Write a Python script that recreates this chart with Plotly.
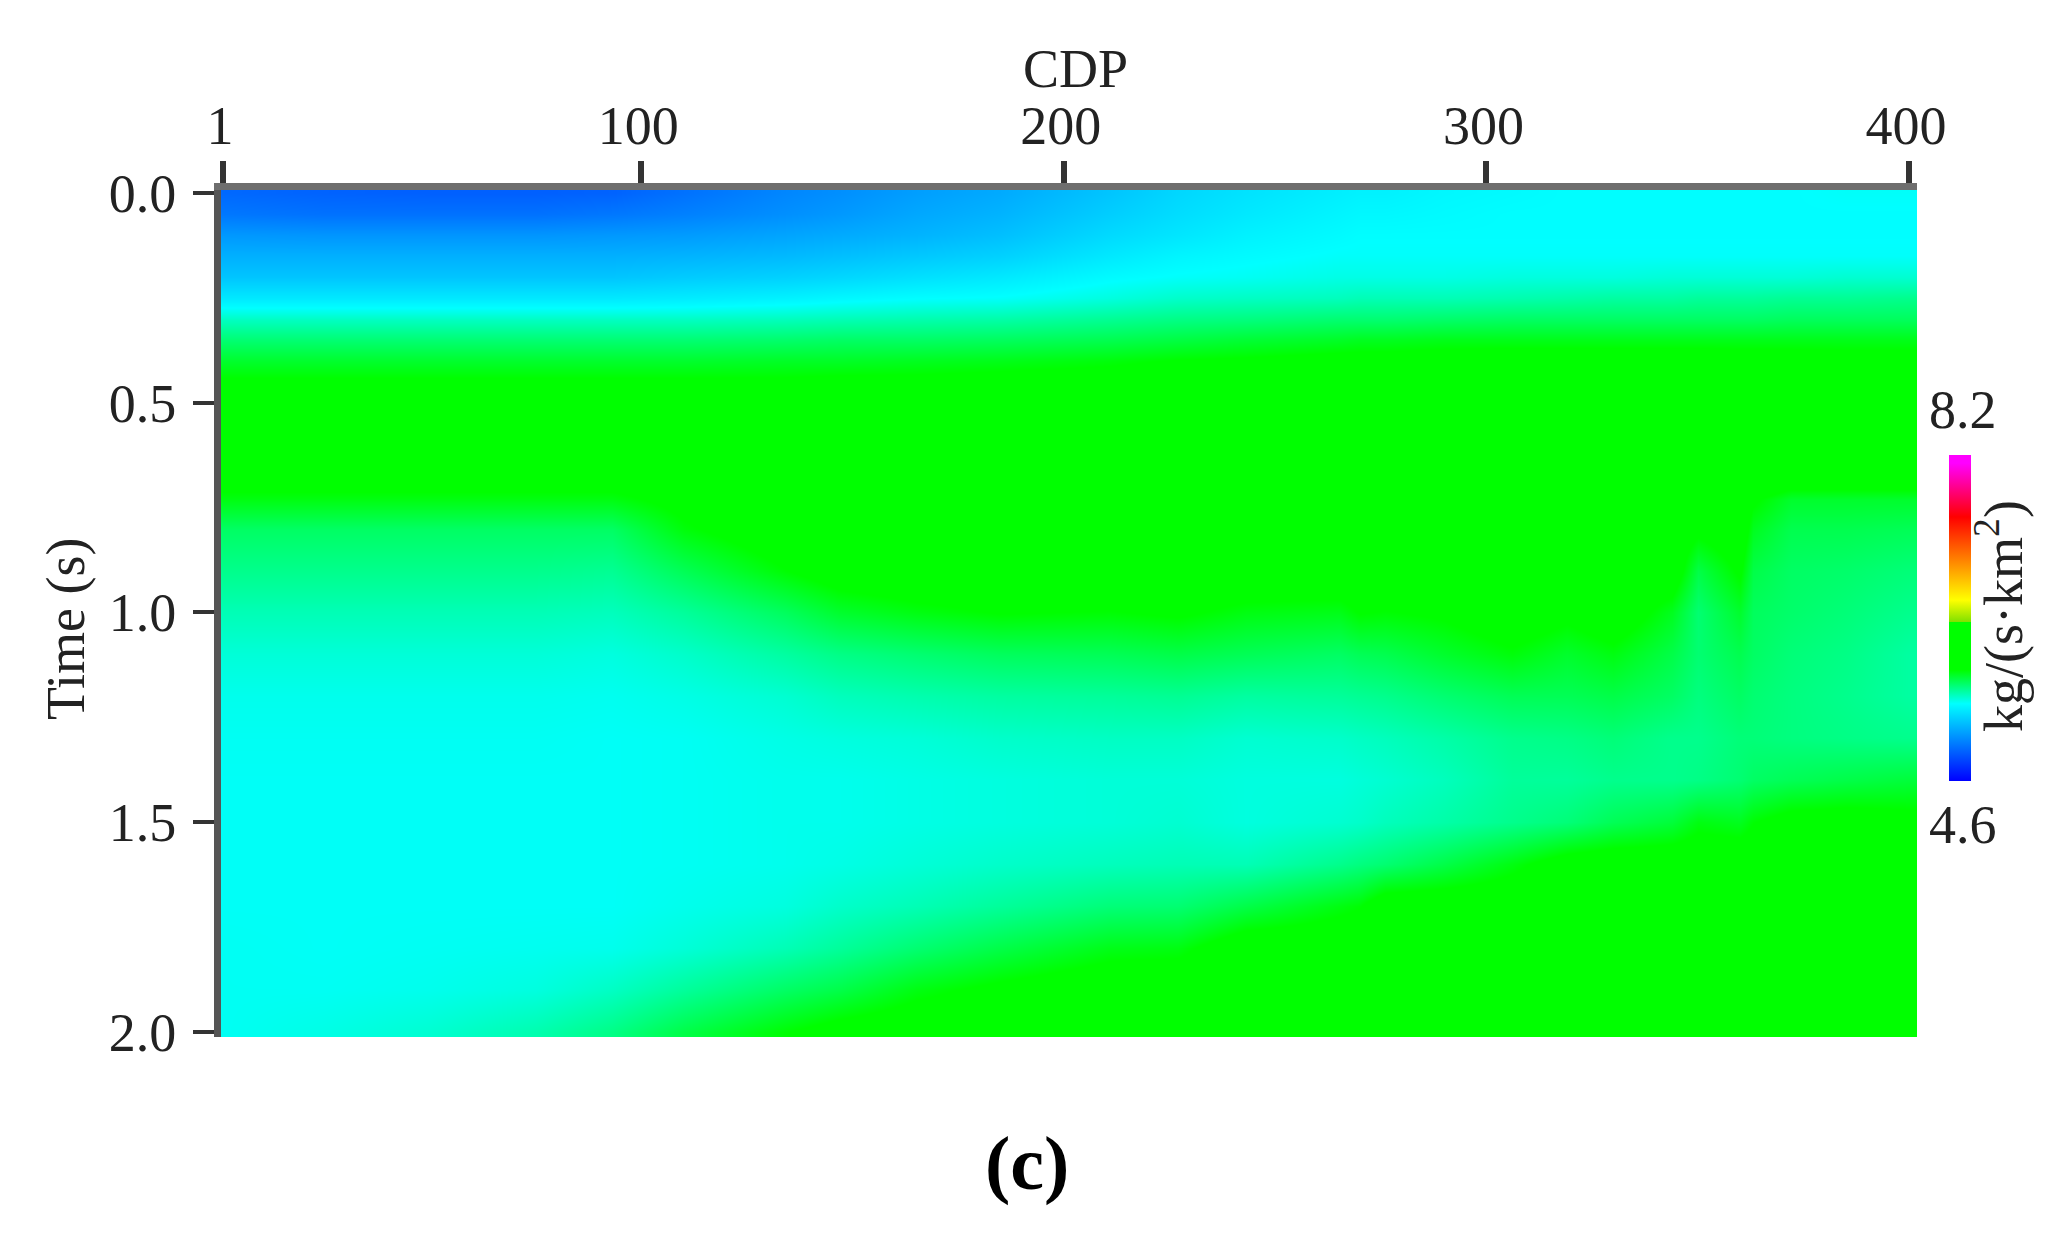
import plotly.graph_objects as go

# values
cdp = [1, 25, 50, 75, 93, 110, 134, 147, 165, 185, 211, 227, 243, 265, 270, 276, 290, 306, 319, 330,
       344, 350, 360, 363, 372, 385, 400]
time_s = [0.0, 0.05, 0.1, 0.15, 0.2, 0.25, 0.3, 0.35, 0.4, 0.45, 0.5, 0.6, 0.7, 0.73, 0.8, 0.9,
          1.0, 1.1, 1.2, 1.3, 1.4, 1.5, 1.6, 1.7, 1.8, 1.9, 2.0]
impedance = [
    [4.95, 4.93, 4.92, 4.92, 4.93, 4.98, 5.05, 5.08, 5.13, 5.17, 5.26, 5.32, 5.36, 5.40, 5.41, 5.41, 5.43, 5.44, 5.45, 5.45, 5.45, 5.45, 5.45, 5.45, 5.45, 5.46, 5.46],
    [5.00, 4.98, 4.98, 4.98, 5.00, 5.03, 5.08, 5.11, 5.16, 5.20, 5.29, 5.34, 5.38, 5.42, 5.43, 5.43, 5.44, 5.45, 5.45, 5.45, 5.45, 5.45, 5.45, 5.45, 5.45, 5.45, 5.45],
    [5.11, 5.10, 5.10, 5.10, 5.11, 5.12, 5.15, 5.17, 5.20, 5.24, 5.33, 5.37, 5.41, 5.44, 5.45, 5.45, 5.45, 5.45, 5.45, 5.45, 5.45, 5.45, 5.45, 5.45, 5.45, 5.45, 5.45],
    [5.19, 5.19, 5.19, 5.19, 5.19, 5.20, 5.22, 5.24, 5.27, 5.30, 5.38, 5.42, 5.44, 5.46, 5.46, 5.46, 5.46, 5.46, 5.46, 5.46, 5.46, 5.46, 5.46, 5.46, 5.46, 5.46, 5.46],
    [5.26, 5.26, 5.26, 5.26, 5.26, 5.28, 5.30, 5.32, 5.35, 5.38, 5.44, 5.46, 5.47, 5.49, 5.49, 5.49, 5.49, 5.50, 5.50, 5.50, 5.51, 5.51, 5.51, 5.51, 5.51, 5.52, 5.52],
    [5.38, 5.38, 5.38, 5.38, 5.38, 5.39, 5.41, 5.43, 5.45, 5.46, 5.50, 5.53, 5.54, 5.55, 5.56, 5.56, 5.56, 5.57, 5.58, 5.59, 5.59, 5.60, 5.60, 5.60, 5.61, 5.61, 5.62],
    [5.54, 5.54, 5.54, 5.54, 5.54, 5.54, 5.55, 5.56, 5.57, 5.58, 5.61, 5.63, 5.64, 5.66, 5.66, 5.66, 5.67, 5.68, 5.68, 5.68, 5.68, 5.68, 5.68, 5.68, 5.69, 5.69, 5.69],
    [5.66, 5.66, 5.66, 5.66, 5.66, 5.66, 5.67, 5.68, 5.68, 5.69, 5.71, 5.73, 5.75, 5.77, 5.78, 5.78, 5.79, 5.79, 5.79, 5.79, 5.79, 5.79, 5.79, 5.79, 5.79, 5.79, 5.79],
    [5.76, 5.76, 5.76, 5.76, 5.76, 5.76, 5.77, 5.77, 5.78, 5.79, 5.81, 5.83, 5.84, 5.86, 5.86, 5.86, 5.87, 5.88, 5.88, 5.88, 5.88, 5.88, 5.87, 5.87, 5.87, 5.86, 5.86],
    [5.84, 5.84, 5.84, 5.84, 5.84, 5.84, 5.84, 5.85, 5.85, 5.86, 5.87, 5.88, 5.90, 5.90, 5.90, 5.90, 5.90, 5.90, 5.90, 5.90, 5.90, 5.90, 5.90, 5.90, 5.90, 5.90, 5.90],
    [5.90, 5.90, 5.90, 5.90, 5.90, 5.90, 5.90, 5.90, 5.90, 5.90, 5.90, 5.90, 5.90, 5.90, 5.90, 5.90, 5.90, 5.90, 5.90, 5.90, 5.90, 5.90, 5.90, 5.90, 5.90, 5.90, 5.90],
    [5.90, 5.90, 5.90, 5.90, 5.90, 5.90, 5.90, 5.90, 5.90, 5.90, 5.90, 5.90, 5.90, 5.90, 5.90, 5.90, 5.90, 5.90, 5.90, 5.90, 5.90, 5.90, 5.90, 5.90, 5.90, 5.90, 5.90],
    [5.84, 5.84, 5.84, 5.84, 5.84, 5.88, 5.90, 5.90, 5.90, 5.90, 5.90, 5.90, 5.90, 5.90, 5.90, 5.90, 5.90, 5.90, 5.90, 5.90, 5.90, 5.90, 5.90, 5.90, 5.84, 5.84, 5.84],
    [5.80, 5.80, 5.80, 5.80, 5.80, 5.86, 5.90, 5.90, 5.90, 5.90, 5.90, 5.90, 5.90, 5.90, 5.90, 5.90, 5.90, 5.90, 5.90, 5.90, 5.90, 5.90, 5.90, 5.84, 5.76, 5.76, 5.76],
    [5.68, 5.68, 5.68, 5.68, 5.68, 5.81, 5.90, 5.90, 5.90, 5.90, 5.90, 5.90, 5.90, 5.90, 5.90, 5.90, 5.90, 5.90, 5.90, 5.90, 5.90, 5.85, 5.90, 5.78, 5.71, 5.71, 5.70],
    [5.62, 5.62, 5.62, 5.62, 5.61, 5.70, 5.82, 5.88, 5.90, 5.90, 5.90, 5.90, 5.90, 5.90, 5.90, 5.90, 5.90, 5.90, 5.90, 5.90, 5.90, 5.72, 5.84, 5.72, 5.68, 5.67, 5.65],
    [5.56, 5.56, 5.56, 5.56, 5.55, 5.60, 5.69, 5.76, 5.80, 5.83, 5.82, 5.84, 5.80, 5.79, 5.83, 5.82, 5.84, 5.90, 5.85, 5.90, 5.78, 5.66, 5.76, 5.69, 5.67, 5.65, 5.62],
    [5.51, 5.51, 5.51, 5.51, 5.50, 5.53, 5.59, 5.63, 5.66, 5.69, 5.70, 5.72, 5.70, 5.68, 5.70, 5.71, 5.76, 5.81, 5.76, 5.80, 5.72, 5.66, 5.71, 5.68, 5.65, 5.63, 5.59],
    [5.48, 5.48, 5.48, 5.48, 5.475, 5.49, 5.52, 5.55, 5.57, 5.59, 5.60, 5.61, 5.59, 5.60, 5.61, 5.62, 5.66, 5.70, 5.70, 5.72, 5.68, 5.64, 5.68, 5.66, 5.64, 5.62, 5.59],
    [5.47, 5.47, 5.47, 5.47, 5.465, 5.47, 5.49, 5.50, 5.51, 5.53, 5.54, 5.54, 5.52, 5.53, 5.54, 5.55, 5.58, 5.62, 5.63, 5.65, 5.62, 5.62, 5.65, 5.65, 5.64, 5.63, 5.62],
    [5.465, 5.465, 5.465, 5.465, 5.465, 5.47, 5.48, 5.48, 5.49, 5.50, 5.51, 5.51, 5.50, 5.50, 5.51, 5.52, 5.55, 5.60, 5.60, 5.62, 5.62, 5.63, 5.66, 5.68, 5.70, 5.72, 5.74],
    [5.465, 5.465, 5.465, 5.465, 5.465, 5.47, 5.48, 5.48, 5.49, 5.50, 5.51, 5.52, 5.50, 5.52, 5.53, 5.55, 5.58, 5.62, 5.65, 5.70, 5.74, 5.80, 5.78, 5.82, 5.87, 5.88, 5.86],
    [5.465, 5.465, 5.465, 5.465, 5.465, 5.47, 5.48, 5.49, 5.51, 5.53, 5.55, 5.56, 5.56, 5.62, 5.64, 5.66, 5.72, 5.80, 5.88, 5.90, 5.90, 5.90, 5.90, 5.90, 5.90, 5.90, 5.90],
    [5.465, 5.465, 5.465, 5.465, 5.465, 5.48, 5.50, 5.53, 5.56, 5.60, 5.65, 5.66, 5.72, 5.80, 5.82, 5.90, 5.90, 5.90, 5.90, 5.90, 5.90, 5.90, 5.90, 5.90, 5.90, 5.90, 5.90],
    [5.47, 5.465, 5.47, 5.475, 5.48, 5.51, 5.56, 5.60, 5.66, 5.72, 5.79, 5.80, 5.90, 5.90, 5.90, 5.90, 5.90, 5.90, 5.90, 5.90, 5.90, 5.90, 5.90, 5.90, 5.90, 5.90, 5.90],
    [5.47, 5.47, 5.48, 5.50, 5.54, 5.60, 5.68, 5.72, 5.80, 5.85, 5.90, 5.90, 5.90, 5.90, 5.90, 5.90, 5.90, 5.90, 5.90, 5.90, 5.90, 5.90, 5.90, 5.90, 5.90, 5.90, 5.90],
    [5.47, 5.49, 5.52, 5.57, 5.63, 5.72, 5.82, 5.87, 5.90, 5.90, 5.90, 5.90, 5.90, 5.90, 5.90, 5.90, 5.90, 5.90, 5.90, 5.90, 5.90, 5.90, 5.90, 5.90, 5.90, 5.90, 5.90],
]

cdp_ticks = [1, 100, 200, 300, 400]
time_ticks = [0.0, 0.5, 1.0, 1.5, 2.0]
time_labels = ['0.0', '0.5', '1.0', '1.5', '2.0']

# colour bar of the section, blue at 4.6 up to magenta at 8.2
escala = [
    [0.0, 'rgb(0,0,255)'],
    [0.237, 'rgb(0,255,255)'],
    [0.34, 'rgb(0,255,0)'],
    [0.488, 'rgb(0,255,0)'],
    [0.489, 'rgb(130,225,0)'],
    [0.555, 'rgb(255,255,0)'],
    [0.68, 'rgb(255,128,0)'],
    [0.81, 'rgb(255,0,0)'],
    [0.975, 'rgb(255,0,255)'],
    [1.0, 'rgb(255,0,255)'],
]

# the page keeps the browser's 8px body margin, so the figure is 16px smaller
W, H = 2050, 1232
FONTE = 'Liberation Serif'
COR_TEXTO = '#222222'


def px(x):
    return (x - 8) / W


def py(y):
    return 1 - (y - 8) / H


def rotulo(texto, x, y, tamanho=54, angulo=0, cor=COR_TEXTO):
    return dict(text=texto, x=px(x), y=py(y), xref='paper', yref='paper',
                xanchor='center', yanchor='middle', textangle=angulo,
                showarrow=False, font=dict(size=tamanho, color=cor))


fig = go.Figure(go.Heatmap(
    x=cdp,
    y=time_s,
    z=impedance,
    zmin=4.6,
    zmax=8.2,
    zsmooth='best',
    colorscale=escala,
    colorbar=dict(
        x=px(1949), xanchor='left', xpad=0,
        y=py(618), yanchor='middle', ypad=0,
        thickness=22,
        lenmode='pixels', len=326,
        showticklabels=False,
        ticks='',
        outlinewidth=0,
    ),
))

fig.update_layout(
    width=W,
    height=H,
    margin=dict(l=0, r=0, t=0, b=0, autoexpand=False),
    paper_bgcolor='white',
    plot_bgcolor='white',
    font=dict(family=FONTE, size=54, color=COR_TEXTO),
    xaxis=dict(
        domain=[px(221), px(1917)],
        range=[0.53, 401.9],
        side='top',
        anchor='y',
        tickvals=cdp_ticks,
        ticktext=[str(v) for v in cdp_ticks],
        ticks='outside',
        ticklen=22,
        tickwidth=6,
        tickcolor='#333333',
        showline=True,
        linewidth=7,
        linecolor='#6e6e6e',
        showgrid=False,
        zeroline=False,
        ticklabelshift=-3,
        ticklabelstandoff=-5,
    ),
    yaxis=dict(
        domain=[py(1037), py(190)],
        range=[2.012, -0.007],
        anchor='x',
        tickvals=time_ticks,
        ticktext=time_labels,
        ticks='outside',
        ticklen=21,
        tickwidth=4,
        tickcolor='#333333',
        showline=True,
        linewidth=7,
        linecolor='#555555',
        showgrid=False,
        zeroline=False,
        ticklabelstandoff=6,
    ),
    annotations=[
        rotulo('CDP', 1075, 69),
        rotulo('Time (s)', 66, 629, angulo=-90),
        rotulo('8.2', 1963, 410),
        rotulo('4.6', 1963, 825),
        rotulo('kg/(s·km<sup>2</sup>)', 2000, 616, angulo=-90),
        rotulo('<b>(c)</b>', 1027, 1163, tamanho=76, cor='black'),
    ],
)

fig.write_html("out.html")
